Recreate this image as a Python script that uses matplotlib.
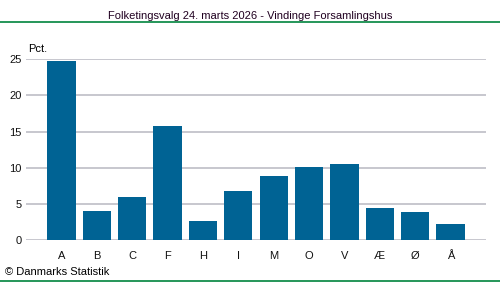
import matplotlib
matplotlib.use("Agg")
import matplotlib.pyplot as plt
from matplotlib.lines import Line2D

partier = ["A", "B", "C", "F", "H", "I", "M", "O", "V", "Æ", "Ø", "Å"]
pct = [24.8, 4.0, 6.0, 15.8, 2.6, 6.8, 8.9, 10.1, 10.5, 4.4, 3.9, 2.2]
yticks = [0, 5, 10, 15, 20, 25]

plt.rcParams["font.family"] = ["Liberation Sans", "DejaVu Sans"]
plt.rcParams["font.size"] = 8

fig = plt.figure(figsize=(5, 2.82), dpi=100)
ax = fig.add_axes([0.052, 0.149, 0.92, 0.641])

x = list(range(len(partier)))
ax.bar(x, pct, width=0.8, color="#006394", zorder=3)

ax.set_xlim(-1, len(partier))
ax.set_ylim(0, 25)
ax.set_yticks(yticks)
ax.set_xticks(x)
ax.set_xticklabels(partier)
ax.grid(axis="y", color="#BEBEC6", linewidth=1.2, zorder=0)
ax.tick_params(length=0, labelsize=8, colors="#111111")
ax.tick_params(axis="x", pad=8)
ax.tick_params(axis="y", pad=3)
for s in ax.spines.values():
    s.set_visible(False)

fig.text(0.5, 0.945, "Folketingsvalg 24. marts 2026 - Vindinge Forsamlingshus",
         ha="center", va="center", fontsize=8, color="#200020")
fig.text(0.056, 0.825, "Pct.", ha="left", va="center", fontsize=8)
fig.text(0.01, 0.035, "© Danmarks Statistik", ha="left", va="center", fontsize=8)

# green rules under the title and along the bottom edge
fig.add_artist(Line2D([0, 1], [0.922, 0.922], color="#00843D", linewidth=1.2,
                      transform=fig.transFigure))
fig.add_artist(Line2D([0, 1], [0.003, 0.003], color="#00843D", linewidth=1.2,
                      transform=fig.transFigure))

fig.savefig("out.png", dpi=100)
